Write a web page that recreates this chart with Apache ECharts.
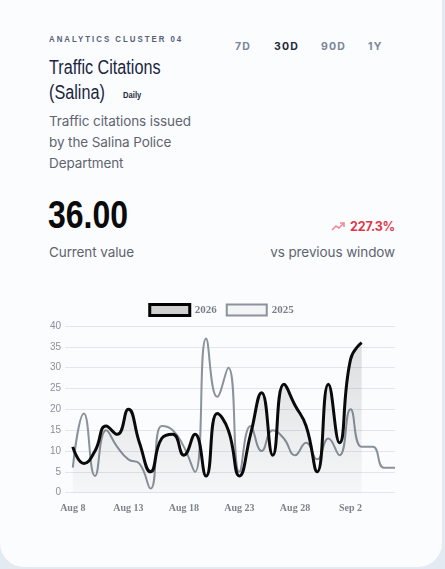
<!DOCTYPE html>
<html>
<head>
<meta charset="utf-8">
<script src="https://cdn.jsdelivr.net/npm/echarts@6/dist/echarts.min.js"></script>
<style>
  html, body { margin: 0; padding: 0; }
  body { width: 445px; height: 569px; background: #e4eaf2; position: relative; overflow: hidden; font-family: Inter, "Noto Sans", sans-serif; }
  .card { position: absolute; left: 0; top: -30px; width: 442px; height: 597px; background: #fbfcfe; border-radius: 24px; }
  .abs { position: absolute; white-space: nowrap; }
  .cond { transform-origin: 0 0; }
  .eyebrow { left: 49px; top: 33px; font-family: "Liberation Sans", sans-serif; font-weight: 700; font-size: 9.8px; letter-spacing: 2.5px; color: #56607a; transform: scaleX(0.8); }
  .tab { top: 40px; font-family: Inter, sans-serif; font-weight: 700; font-size: 10.5px; letter-spacing: 1.2px; color: #7a8699; }
  .tab.active { color: #1e293b; }
  .title { left: 49px; top: 55px; font-family: "Liberation Sans", sans-serif; font-size: 19.5px; line-height: 25px; color: #1a2540; transform: scaleX(0.83); }
  .badge { font-family: "Liberation Sans", sans-serif; font-weight: 700; font-size: 9.2px; color: #1e293b; margin-left: 22px; position: relative; top: -1px; }
  .desc { left: 49px; top: 111px; font-family: Inter, sans-serif; font-size: 13.5px; line-height: 21px; color: #5f6470; letter-spacing: -0.1px; }
  .big { left: 48px; top: 192px; font-family: "Liberation Sans", sans-serif; font-weight: 700; font-size: 39px; line-height: 46px; color: #0a0a0a; transform: scaleX(0.82); }
  .sub { font-family: Inter, sans-serif; font-size: 13.5px; color: #5f6470; letter-spacing: -0.1px; }
  .delta { right: 50px; top: 219px; font-family: Inter, sans-serif; font-weight: 700; font-size: 12.5px; letter-spacing: -0.2px; color: #e0364a; }
  #chart { position: absolute; left: 0; top: 290px; width: 442px; height: 240px; }
</style>
</head>
<body>
<div class="card"></div>
<div class="abs eyebrow cond">ANALYTICS CLUSTER 04</div>
<div class="abs tab" style="left:235px">7D</div>
<div class="abs tab active" style="left:274px">30D</div>
<div class="abs tab" style="left:321px">90D</div>
<div class="abs tab" style="left:368px">1Y</div>
<div class="abs title cond">Traffic Citations<br>(Salina)<span class="badge">Daily</span></div>
<div class="abs desc">Traffic citations issued<br>by the Salina Police<br>Department</div>
<div class="abs big cond">36.00</div>
<div class="abs sub" style="left:49px; top:244px;">Current value</div>
<div class="abs delta"><svg width="15" height="10" viewBox="0 0 15 10" style="vertical-align:0px;margin-right:4px"><polyline points="1,9 5,5 8,7 13,2" fill="none" stroke="#f08a96" stroke-width="1.6"/><polyline points="9,2 13,2 13,6" fill="none" stroke="#f08a96" stroke-width="1.6"/></svg>227.3%</div>
<div class="abs sub" style="right:50px; top:244px;">vs previous window</div>
<div id="chart"></div>
<script>
const categories = ['Aug 8','Aug 9','Aug 10','Aug 11','Aug 12','Aug 13','Aug 14','Aug 15','Aug 16','Aug 17','Aug 18','Aug 19','Aug 20','Aug 21','Aug 22','Aug 23','Aug 24','Aug 25','Aug 26','Aug 27','Aug 28','Aug 29','Aug 30','Aug 31','Sep 1','Sep 2','Sep 3','Sep 4','Sep 5','Sep 6'];
const values2026 = [11, 7, 10, 16, 14, 20, 12, 5, 13, 14, 9, 14, 4, 19, 15, 4, 14, 24, 9, 26, 21, 16, 5, 26, 12, 32, 36];
const values2025 = [6, 19, 4, 15, 11, 8, 7, 1, 16, 15, 11, 5, 37, 23, 30, 5, 16, 10, 15, 13, 9, 12, 8, 13, 9, 20, 11, 11, 6, 6];
const yTicks = [0, 5, 10, 15, 20, 25, 30, 35, 40];
const xLabelIdx = [0, 5, 10, 15, 20, 25];

const chart = echarts.init(document.getElementById('chart'), null, { renderer: 'canvas' });
chart.setOption({
  animation: false,
  legend: {
    top: 8,
    left: 'center',
    itemWidth: 40,
    itemHeight: 11,
    itemGap: 9,
    textStyle: { fontFamily: '"Liberation Serif", serif', fontWeight: 'bold', fontSize: 11, color: '#7a808a' },
    data: [
      { name: '2026', icon: 'rect', itemStyle: { color: '#cfcfcf', borderColor: '#000000', borderWidth: 3 } },
      { name: '2025', icon: 'rect', itemStyle: { color: '#f3f4f6', borderColor: '#8b929c', borderWidth: 2 } }
    ]
  },
  grid: { left: 65, right: 47, top: 36, bottom: 37.3 },
  xAxis: {
    type: 'value',
    min: -0.7,
    max: categories.length - 1,
    axisLine: { show: false },
    axisTick: { show: false },
    splitLine: { show: false },
    axisLabel: {
      customValues: xLabelIdx,
      formatter: v => categories[Math.round(v)] || '',
      fontFamily: '"Liberation Serif", serif',
      fontWeight: 'bold',
      fontSize: 10,
      color: '#7d828b',
      margin: 11
    }
  },
  yAxis: {
    type: 'value',
    min: yTicks[0],
    max: yTicks[yTicks.length - 1],
    interval: 5,
    axisLine: { show: false },
    axisTick: { show: false },
    splitLine: { lineStyle: { color: '#e2e5ea', width: 1 } },
    axisLabel: { fontFamily: '"Liberation Sans", sans-serif', fontSize: 10, color: '#8a8f98', margin: 4 }
  },
  series: [
    {
      name: '2025',
      type: 'line',
      smooth: true,
      showSymbol: false,
      data: values2025.map((v, i) => [i, v]),
      lineStyle: { color: '#8b929c', width: 2 },
      itemStyle: { color: '#8b929c' },
      z: 2
    },
    {
      name: '2026',
      type: 'line',
      smooth: true,
      showSymbol: false,
      data: values2026.map((v, i) => [i, v]),
      lineStyle: { color: '#0a0a0a', width: 3 },
      itemStyle: { color: '#0a0a0a' },
      areaStyle: {
        color: new echarts.graphic.LinearGradient(0, 0, 0, 1, [
          { offset: 0, color: 'rgba(0,0,0,0.17)' },
          { offset: 1, color: 'rgba(0,0,0,0.03)' }
        ])
      },
      z: 3
    }
  ]
});
</script>
</body>
</html>
